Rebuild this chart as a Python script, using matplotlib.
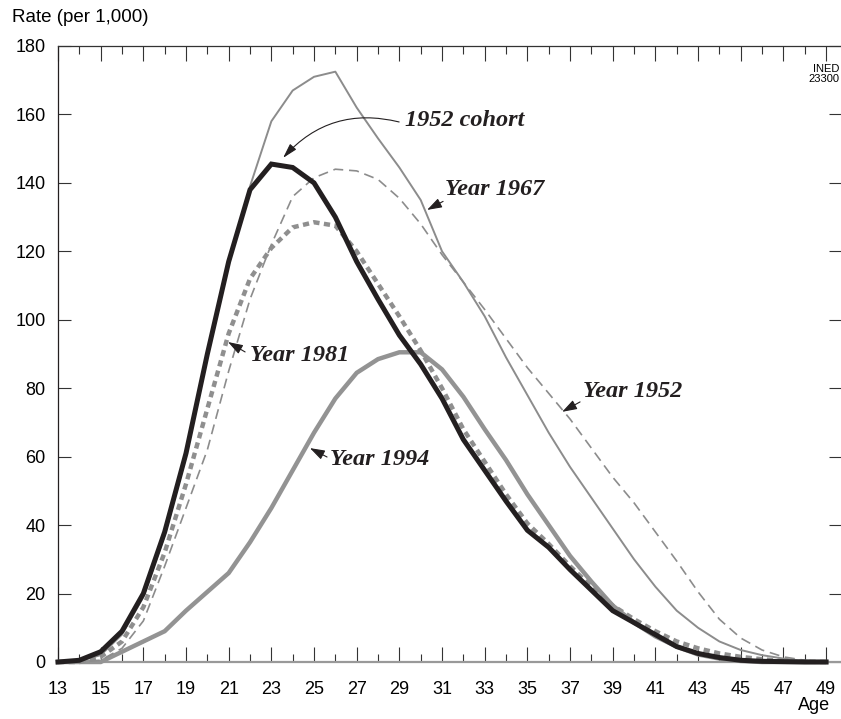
import matplotlib
matplotlib.use("Agg")
import matplotlib.pyplot as plt
from matplotlib.ticker import MultipleLocator

# Age-specific fertility rates (per 1,000)
AGES = list(range(13, 50))

COHORT_1952 = [0, 0.5, 3, 9, 20, 38, 61, 90, 117, 138, 145.5, 144.5, 140, 130,
               117, 106, 95.5, 87, 77, 65, 56, 47, 38.5, 33.5, 27, 21, 15, 11.5,
               8, 4.5, 2.5, 1.3, 0.5, 0.2, 0.1, 0, 0]
YEAR_1967 = [0, 0.3, 2, 8, 19, 37, 60, 89, 116, 139, 158, 167, 171, 172.5,
             162, 153, 144.5, 135, 120, 111, 101, 89, 78, 67, 57, 48, 39, 30,
             22, 15, 10, 6, 3.5, 2, 1, 0.3, 0]
YEAR_1952 = [0, 0, 0.5, 4, 12, 28, 45, 62, 85, 106, 122, 136, 141.5, 144,
             143.5, 141, 135.5, 128, 119, 111, 103, 94.5, 86, 78.5, 71, 62.5,
             54, 46.5, 38, 29.5, 20.5, 12.5, 7, 3.5, 1.5, 0.5, 0]
YEAR_1981 = [0, 0, 1.5, 6, 16, 32, 52, 74, 96, 112, 121, 127, 128.5, 127.5,
             120, 110.5, 101, 91, 80, 68, 58.5, 49, 40.5, 34.5, 28, 22, 16.5,
             12.5, 9, 6, 4, 2.5, 1.5, 0.8, 0.3, 0.1, 0]
YEAR_1994 = [0, 0, 0, 3, 6, 9, 15, 20.5, 26, 35, 45, 56, 67, 77, 84.5, 88.5,
             90.5, 90.5, 85.5, 77.5, 68, 59, 49, 40, 31, 23.5, 16.5, 11.5, 7.5,
             4.5, 2.2, 1, 0.3, 0, 0, 0, 0]

# label text, (text x, text y), (arrow tail), (arrow tip)
LABELS = [
    ("Year 1967", (31.14, 138.2), (31.05, 134.6), (30.30, 132.1)),
    ("Year 1952", (37.61, 78.9), (37.47, 76.0), (36.63, 73.1)),
    ("Year 1981", (22.00, 89.7), (21.77, 90.6), (20.97, 93.5)),
    ("Year 1994", (25.75, 59.3), (25.61, 59.9), (24.81, 62.5)),
]
COHORT_LABEL = ("1952 cohort", (29.27, 158.1), (28.99, 157.8), (23.55, 147.3))

GREY = "#8c8c8c"
DARK = "#231f20"


def plot_chart():
    fig = plt.figure(figsize=(8.41, 7.19), dpi=100)
    ax = fig.add_axes([58 / 841, 1 - 662 / 719, 1 - 58 / 841, (662 - 46) / 719])

    ax.plot(AGES, YEAR_1994, color="#939393", lw=3.2, clip_on=False,
            solid_joinstyle="miter", zorder=3)
    ax.plot(AGES, YEAR_1981, color="#8f8f8f", lw=3.2, ls=(0, (1.4, 1.0)),
            dash_capstyle="butt", clip_on=False, zorder=3)
    ax.plot(AGES, YEAR_1952, color=GREY, lw=1.2, ls=(0, (6, 3.5)),
            clip_on=False, zorder=3)
    ax.plot(AGES, YEAR_1967, color=GREY, lw=1.4, clip_on=False, zorder=3)
    ax.plot(AGES, COHORT_1952, color=DARK, lw=3.6, clip_on=False,
            solid_joinstyle="miter", zorder=4)

    ax.set_xlim(13, 49.7)
    ax.set_ylim(0, 180)

    ax.xaxis.set_major_locator(MultipleLocator(2, offset=1))
    ax.xaxis.set_minor_locator(MultipleLocator(1))
    ax.yaxis.set_major_locator(MultipleLocator(20))

    ax.tick_params(axis="x", which="major", direction="in", top=True,
                   length=11, width=0.8, color="#333333", pad=14,
                   labelsize=13)
    ax.tick_params(axis="x", which="minor", direction="in", top=True,
                   length=5.5, width=0.8, color="#333333")
    ax.tick_params(axis="y", which="major", direction="in", right=True,
                   length=9, width=0.8, color="#333333", pad=9,
                   labelsize=13)
    for lab in ax.get_xticklabels() + ax.get_yticklabels():
        lab.set_fontfamily("Liberation Sans")

    ax.spines["right"].set_visible(False)
    ax.spines["left"].set_color(DARK)
    ax.spines["top"].set_color("#333333")
    ax.spines["bottom"].set_color("#999999")
    for s in ("left", "top"):
        ax.spines[s].set_linewidth(0.9)
    ax.spines["bottom"].set_linewidth(1.6)

    ann_font = dict(family="Liberation Serif", weight="bold", style="italic",
                    size=17.5, color=DARK)
    head = dict(arrowstyle="-|>,head_length=0.9,head_width=0.3", color=DARK,
                lw=0.8, shrinkA=0, shrinkB=0)
    for text, pos, tail, tip in LABELS:
        ax.text(pos[0], pos[1], text, ha="left", va="center", **ann_font)
        ax.annotate("", xy=tip, xytext=tail, arrowprops=head)

    text, pos, tail, tip = COHORT_LABEL
    ax.text(pos[0], pos[1], text, ha="left", va="center", **ann_font)
    ax.annotate("", xy=tip, xytext=tail,
                arrowprops=dict(arrowstyle="-|>,head_length=0.9,head_width=0.25",
                                color=DARK, lw=0.8, shrinkA=0, shrinkB=0,
                                connectionstyle="arc3,rad=0.3"))

    fig.text(12 / 841, 1 - 18 / 719, "Rate (per 1,000)", ha="left",
             va="center", fontsize=13.5, family="Liberation Sans")
    fig.text(830 / 841, 1 - 705 / 719, "Age", ha="right", va="center",
             fontsize=13, family="Liberation Sans")
    fig.text(839 / 841, 1 - 74 / 719, "INED\n23300", ha="right", va="center",
             fontsize=8, family="Liberation Sans", linespacing=1.1)

    fig.savefig("out.png", dpi=100)


if __name__ == "__main__":
    plot_chart()
